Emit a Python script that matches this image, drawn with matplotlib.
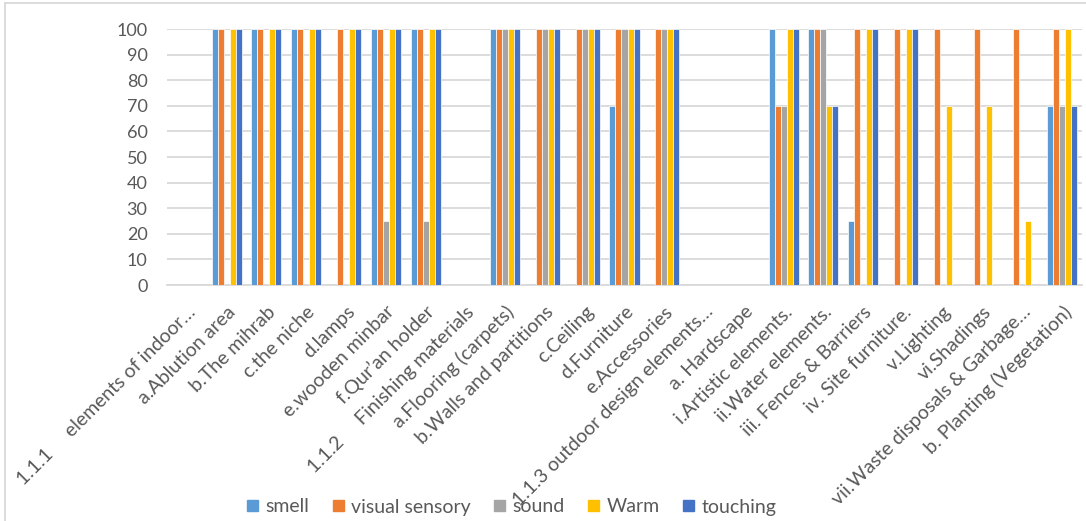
import matplotlib
matplotlib.use("Agg")
import matplotlib.pyplot as plt
from matplotlib.lines import Line2D
import numpy as np

categories = [
    "1.1.1     elements of indoor\u2026",
    "a.Ablution area",
    "b.The mihrab",
    "c.the niche",
    "d.lamps",
    "e.wooden minbar",
    "f.Qur\u2019an holder",
    "1.1.2     Finishing materials",
    "a.Flooring (carpets)",
    "b.Walls and partitions",
    "c.Ceiling",
    "d.Furniture",
    "e.Accessories",
    "1.1.3 outdoor design elements\u2026",
    "a. Hardscape",
    "i.Artistic elements.",
    "ii.Water elements.",
    "iii. Fences & Barriers",
    "iv. Site furniture.",
    "v.Lighting",
    "vi.Shadings",
    "vii.Waste disposals & Garbage\u2026",
    "b. Planting (Vegetation)",
]

smell = [0, 100, 100, 100, 0, 100, 100, 0, 100, 0, 0, 70, 0, 0, 0,
         100, 100, 25, 0, 0, 0, 0, 70]
visual_sensory = [0, 100, 100, 100, 100, 100, 100, 0, 100, 100, 100, 100, 100, 0, 0,
                  70, 100, 100, 100, 100, 100, 100, 100]
sound = [0, 0, 0, 0, 0, 25, 25, 0, 100, 100, 100, 100, 100, 0, 0,
         70, 100, 0, 0, 0, 0, 0, 70]
warm = [0, 100, 100, 100, 100, 100, 100, 0, 100, 100, 100, 100, 100, 0, 0,
        100, 70, 100, 100, 70, 70, 25, 100]
touching = [0, 100, 100, 100, 100, 100, 100, 0, 100, 100, 100, 100, 100, 0, 0,
            100, 70, 100, 100, 0, 0, 0, 70]

series_names = ["smell", "visual sensory", "sound", "Warm", "touching"]
series_values = [smell, visual_sensory, sound, warm, touching]
colors = ["#5B9BD5", "#ED7D31", "#A5A5A5", "#FFC000", "#4472C4"]

plt.rcParams["font.family"] = ["Lato", "DejaVu Sans"]
text_color = "#595959"
grid_color = "#D9D9D9"

W, H = 1086, 521
fig = plt.figure(figsize=(W / 100, H / 100), dpi=100)
ax = fig.add_axes([167 / W, 1 - 285 / H, (1082 - 167) / W, (285 - 29) / H])

x = np.arange(len(categories))
bw = 0.151
for i, (name, vals, c) in enumerate(zip(series_names, series_values, colors)):
    ax.bar(x + (i - 2) * bw, vals, width=bw, color=c, edgecolor="white",
           linewidth=0.5, label=name, zorder=3)

ax.set_xlim(-0.5, len(categories) - 0.5)
ax.set_ylim(0, 100)
ax.set_yticks(range(0, 101, 10))
ax.yaxis.grid(True, color=grid_color, linewidth=1.3, zorder=0)
ax.set_axisbelow(True)
for s in ["top", "right", "left"]:
    ax.spines[s].set_visible(False)
ax.spines["bottom"].set_color(grid_color)
ax.spines["bottom"].set_linewidth(1.3)
ax.tick_params(axis="both", length=0, colors=text_color)
ax.tick_params(axis="y", pad=14, labelsize=13)

ax.set_xticks(x)
ax.set_xticklabels(categories, rotation=45, ha="right", rotation_mode="anchor",
                   fontsize=14, color=text_color)
ax.tick_params(axis="x", pad=13)

handles = [plt.Rectangle((0, 0), 1, 1, color=c) for c in colors]
fig.legend(handles, series_names, loc="center", bbox_to_anchor=(512 / W, 1 - 507 / H),
           ncol=5, frameon=False, fontsize=14, handlelength=0.55, handleheight=0.55,
           handletextpad=0.4, columnspacing=1.2, labelcolor=text_color)

# chart frame
fig.add_artist(Line2D([5 / W, 5 / W], [0, 1 - 3 / H], transform=fig.transFigure,
                      color=grid_color, linewidth=1.3))
fig.add_artist(Line2D([5 / W, 1], [1 - 3 / H, 1 - 3 / H], transform=fig.transFigure,
                      color=grid_color, linewidth=1.3))

fig.savefig("out.png", dpi=100)
